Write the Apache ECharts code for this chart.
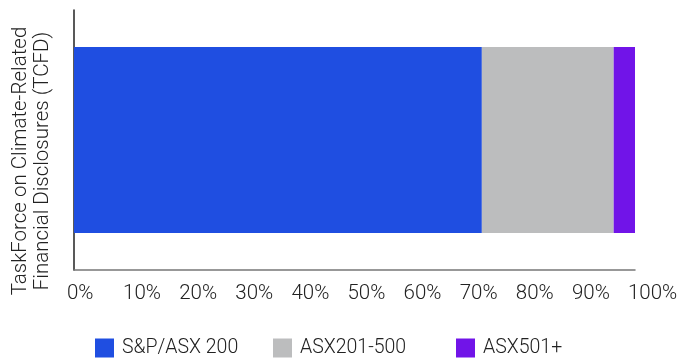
<!DOCTYPE html>
<html>
<head>
<meta charset="utf-8">
<script src="https://cdn.jsdelivr.net/npm/echarts@6/dist/echarts.min.js"></script>
<style>
  html, body { margin: 0; padding: 0; background: #fff; }
  #chart { width: 681px; height: 359px; }
</style>
</head>
<body>
<div id="chart"></div>
<script>
// chart data
const categories = ['TaskForce on Climate-Related\nFinancial Disclosures (TCFD)']
const seriesNames = ['S&P/ASX 200', 'ASX201-500', 'ASX501+']
const sp200 = [72.7]
const asx201to500 = [23.5]
const asx501plus = [3.8]
const colors = ['#1f4ee1', '#bcbdbe', '#7114e8']

const font = 'Roboto'
const legendLeft = [90, 268, 451]

const legendText = { fontFamily: font, fontWeight: 300, fontSize: 19.5, color: '#222', padding: [0, 0, 0, 3] }

const chart = echarts.init(document.getElementById('chart'))
chart.setOption({
  animation: false,
  color: colors,
  grid: {
    left: 74,
    right: 46,
    top: 10,
    bottom: 89,
    outerBoundsMode: 'none'
  },
  // one legend per item so the uneven spacing can be kept
  legend: seriesNames.map((name, i) => ({
    left: legendLeft[i],
    bottom: -4,
    itemWidth: 19,
    itemHeight: 19,
    icon: 'rect',
    textStyle: legendText,
    data: [name]
  })),
  xAxis: {
    type: 'value',
    min: 0,
    max: 100,
    interval: 10,
    splitLine: { show: false },
    axisTick: { show: false },
    axisLine: { show: true, lineStyle: { color: '#777', width: 1.5 } },
    axisLabel: {
      formatter: '{value}%',
      align: 'left',
      padding: [0, 0, 0, -7],
      margin: 13,
      fontFamily: font,
      fontWeight: 300,
      fontSize: 20.5,
      color: '#222'
    }
  },
  yAxis: {
    type: 'category',
    data: categories,
    axisTick: { show: false },
    axisLine: { show: true, lineStyle: { color: '#222', width: 1.5 } },
    axisLabel: {
      rotate: 90,
      margin: 20,
      lineHeight: 22,
      padding: [0, 42, 0, 0],
      fontFamily: font,
      fontWeight: 300,
      fontSize: 20.5,
      color: '#222'
    }
  },
  series: [
    { name: seriesNames[0], type: 'bar', stack: 'total', barWidth: 186, data: sp200 },
    { name: seriesNames[1], type: 'bar', stack: 'total', barWidth: 186, data: asx201to500 },
    { name: seriesNames[2], type: 'bar', stack: 'total', barWidth: 186, data: asx501plus }
  ]
})
</script>
</body>
</html>
